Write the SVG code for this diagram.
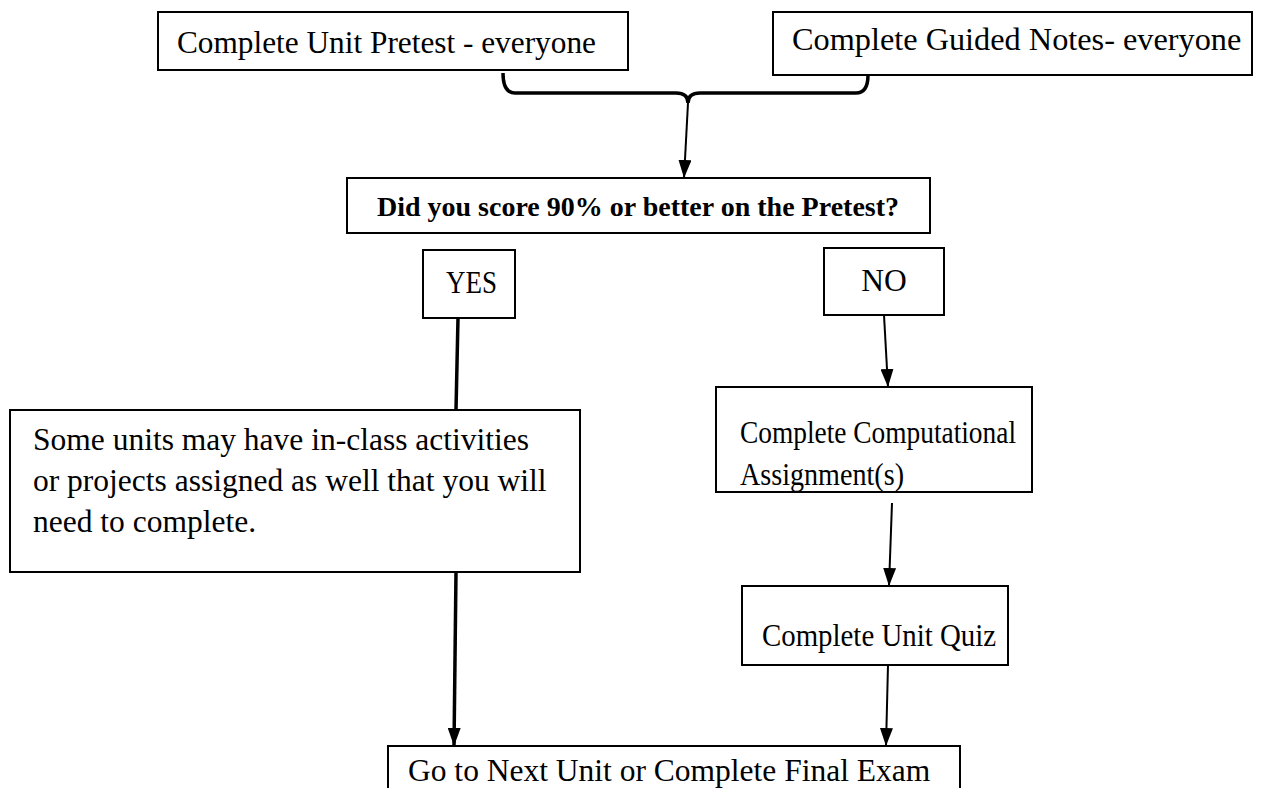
<svg xmlns="http://www.w3.org/2000/svg" width="1262" height="788" viewBox="0 0 1262 788">
<defs>
<style>
.box{fill:#fff;stroke:#000;stroke-width:2}
.t{font-family:"Liberation Serif","Times New Roman",serif;font-size:31.5px;fill:#000}
.b{font-family:"Liberation Serif","Times New Roman",serif;font-size:28px;font-weight:bold;fill:#000}
.ln{stroke:#000;stroke-width:2;fill:none}
.thk{stroke:#000;stroke-width:3.5;fill:none}
</style>
<marker id="ah" viewBox="0 0 18 13" refX="18" refY="6.5" markerWidth="18" markerHeight="13" markerUnits="userSpaceOnUse" orient="auto">
<path d="M0,0 L18,6.5 L0,13 Z" fill="#000"/>
</marker>
</defs>
<rect width="1262" height="788" fill="#fff"/>
<g id="n-pretest"><rect class="box" x="158" y="12" width="470" height="58"/><text class="t" x="177" y="53" style="font-size:31.3px">Complete Unit Pretest - everyone</text></g>
<g id="n-notes"><rect class="box" x="773" y="12" width="479" height="63"/><text class="t" x="792" y="50" style="font-size:32.3px">Complete Guided Notes- everyone</text></g>
<g id="n-decision"><rect class="box" x="347" y="178" width="583" height="55"/><text class="b" x="638" y="216" text-anchor="middle">Did you score 90% or better on the Pretest?</text></g>
<g id="n-yes"><rect class="box" x="423" y="250" width="92" height="68"/><text class="t" x="446" y="293" textLength="51" lengthAdjust="spacingAndGlyphs">YES</text></g>
<g id="n-no"><rect class="box" x="824" y="248" width="120" height="67"/><text class="t" x="884" y="291" text-anchor="middle">NO</text></g>
<g id="n-some"><rect class="box" x="10" y="410" width="570" height="162"/><text class="t"><tspan x="33" y="450">Some units may have in-class activities</tspan><tspan x="33" y="491">or projects assigned as well that you will</tspan><tspan x="33" y="532">need to complete.</tspan></text></g>
<g id="n-comp"><rect class="box" x="716" y="387" width="316" height="105"/><text class="t" x="740" y="443" textLength="276" lengthAdjust="spacingAndGlyphs">Complete Computational</text><text class="t" x="740" y="485" textLength="164" lengthAdjust="spacingAndGlyphs">Assignment(s)</text></g>
<g id="n-quiz"><rect class="box" x="742" y="586" width="266" height="79"/><text class="t" x="762" y="646" textLength="234" lengthAdjust="spacingAndGlyphs">Complete Unit Quiz</text></g>
<g id="n-final"><rect class="box" x="388" y="746" width="572" height="60"/><text class="t" x="408" y="781">Go to Next Unit or Complete Final Exam</text></g>
<g id="connectors">
<path class="thk" d="M503,73 Q503,93 515,93 L676,93 Q688,93 688,103 Q688,93 700,93 L856,93 Q868,93 868,75"/>
<line class="ln" x1="688" y1="103" x2="684" y2="178" marker-end="url(#ah)"/>
<line class="thk" x1="458" y1="318" x2="456" y2="410"/>
<line class="thk" x1="456" y1="572" x2="454" y2="746" marker-end="url(#ah)"/>
<line class="ln" x1="884" y1="315" x2="888" y2="387" marker-end="url(#ah)"/>
<line class="ln" x1="892" y1="503" x2="889" y2="586" marker-end="url(#ah)"/>
<line class="ln" x1="888" y1="665" x2="886" y2="746" marker-end="url(#ah)"/>
</g>
</svg>
